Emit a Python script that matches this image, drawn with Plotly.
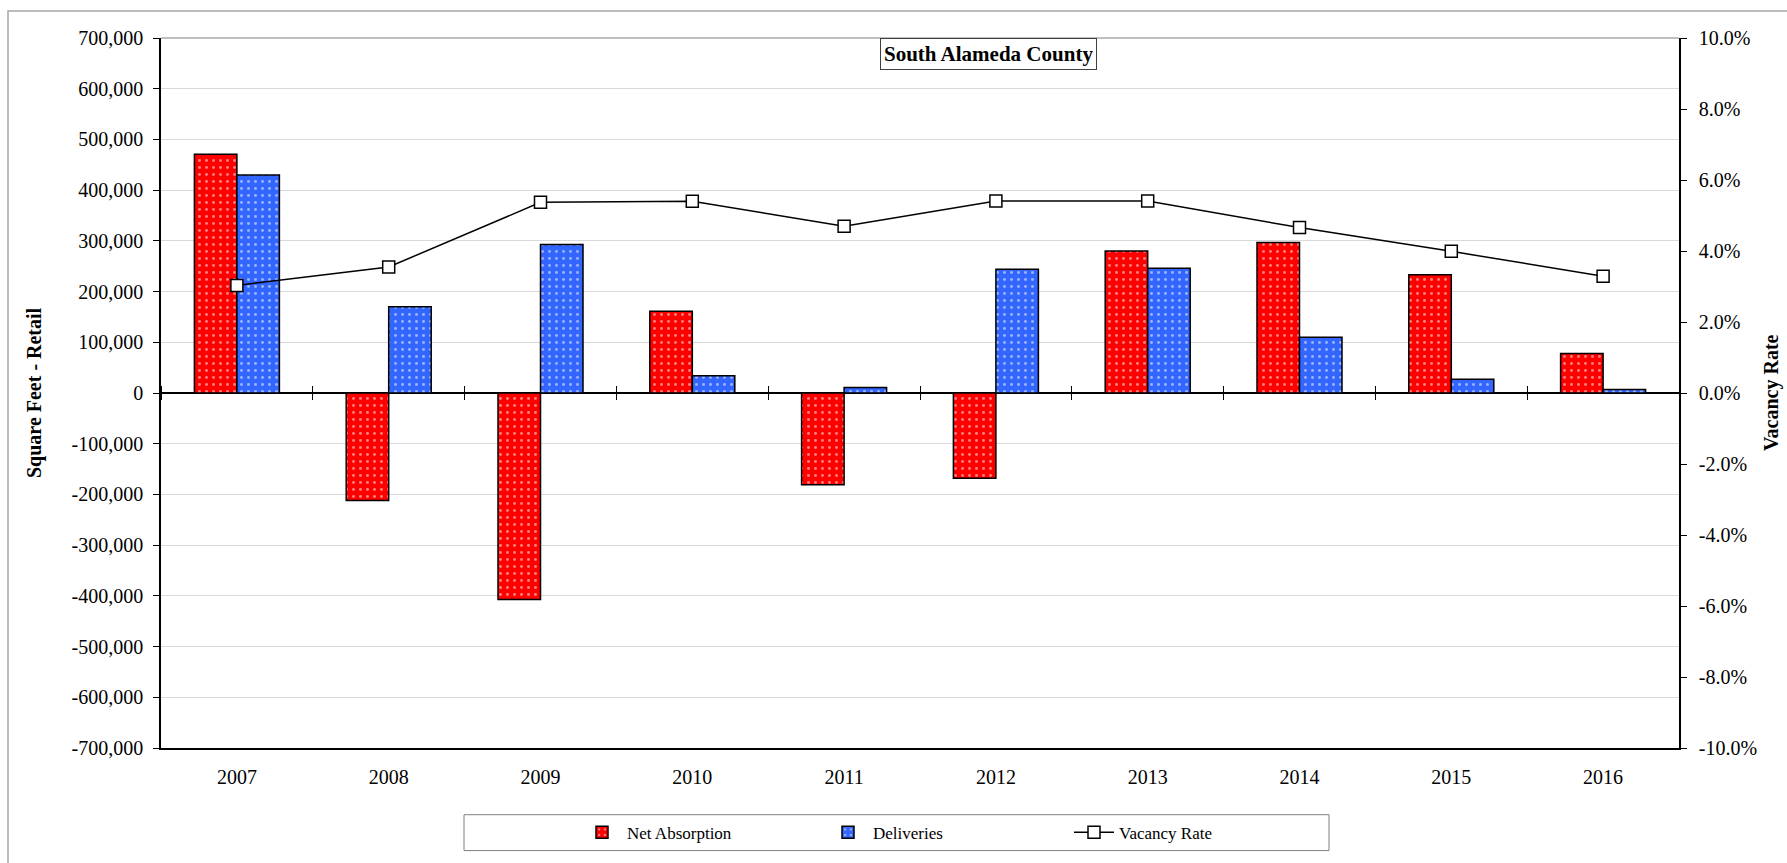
import plotly.graph_objects as go

years = ["2007", "2008", "2009", "2010", "2011", "2012", "2013", "2014", "2015", "2016"]
net_absorption = [471000, -212000, -407000, 161000, -181000, -168000, 280000, 297000, 233000, 78000]
deliveries = [430000, 170000, 293000, 34000, 11000, 244000, 246000, 110000, 27000, 7000]
vacancy_rate = [0.0303, 0.0355, 0.0537, 0.0540, 0.0470, 0.0541, 0.0541, 0.0466, 0.0399, 0.0329]

left_ticks = list(range(-700000, 700001, 100000))
left_ticktext = [("-" if v < 0 else "") + f"{abs(v):,}" for v in left_ticks]
right_ticks = [v / 100 for v in range(-10, 11, 2)]
right_ticktext = [("-" if v < 0 else "") + f"{abs(v) * 100:.1f}%" for v in right_ticks]

FONT = "Liberation Serif"
W, H = 1787, 863
L, R, T, B = 161, 108, 38, 112
pw, ph = W - L - R, H - T - B


def px(x):
    return (x - L) / pw


def py(y):
    return (H - B - y) / ph


yrange = [left_ticks[0], left_ticks[-1]]
zero_pos = (0 - yrange[0]) / (yrange[1] - yrange[0])
xrange = [-0.5, len(years) - 0.5]

fig = go.Figure()
fig.add_trace(go.Bar(
    x=years, y=net_absorption, name="Net Absorption",
    marker=dict(color="#FF0000", line=dict(color="#000000", width=1.5),
                pattern=dict(shape=".", fgcolor="#FFFFFF", bgcolor="#FF0000", size=7, solidity=0.14)),
))
fig.add_trace(go.Bar(
    x=years, y=deliveries, name="Deliveries",
    marker=dict(color="#3366FF", line=dict(color="#000000", width=1.5),
                pattern=dict(shape=".", fgcolor="#FFFFFF", bgcolor="#3366FF", size=7, solidity=0.14)),
))
fig.add_trace(go.Scatter(
    x=years, y=vacancy_rate, name="Vacancy Rate", yaxis="y2", mode="lines+markers",
    line=dict(color="#000000", width=1.5),
    marker=dict(symbol="square", size=12, color="#FFFFFF", line=dict(color="#000000", width=1.5)),
))
# invisible helpers so the zero-line category tick axes render
for ax in ["x2", "x3"]:
    fig.add_trace(go.Scatter(x=years, y=[0] * len(years), xaxis=ax, mode="lines",
                             line=dict(width=0), opacity=0, showlegend=False, hoverinfo="skip"))

fig.update_layout(
    width=W, height=H,
    margin=dict(l=L, r=R, t=T, b=B),
    paper_bgcolor="#FFFFFF", plot_bgcolor="#FFFFFF",
    font=dict(family=FONT, size=20, color="#000000"),
    barmode="group", bargap=0.44, bargroupgap=0,
    showlegend=True,
    legend=dict(orientation="h", x=px(946), y=py(836), xanchor="center", yanchor="middle",
                font=dict(family=FONT, size=17), bgcolor="rgba(0,0,0,0)", borderwidth=0,
                entrywidth=191, entrywidthmode="pixels", traceorder="normal", itemwidth=40),
    xaxis=dict(type="category", categoryorder="array", categoryarray=years, range=xrange,
               showline=True, linecolor="#000000", linewidth=1.5, ticks="",
               showgrid=False, ticklabelstandoff=10, tickfont=dict(size=20)),
    xaxis2=dict(type="category", categoryorder="array", categoryarray=years, range=xrange,
                overlaying="x", anchor="free", position=zero_pos, side="bottom",
                showticklabels=False, ticks="outside", tickson="boundaries", ticklen=6,
                tickcolor="#000000", tickwidth=1, showline=False, showgrid=False),
    xaxis3=dict(type="category", categoryorder="array", categoryarray=years, range=xrange,
                overlaying="x", anchor="free", position=zero_pos, side="top",
                showticklabels=False, ticks="outside", tickson="boundaries", ticklen=7,
                tickcolor="#000000", tickwidth=1, showline=False, showgrid=False),
    yaxis=dict(range=yrange, tickvals=left_ticks, ticktext=left_ticktext,
               showline=True, linecolor="#000000", linewidth=1.5,
               ticks="outside", ticklen=6, tickcolor="#000000",
               showgrid=True, gridcolor="#D9D9D9", gridwidth=1,
               zeroline=True, zerolinecolor="#000000", zerolinewidth=1.5,
               ticklabelstandoff=6, tickfont=dict(size=20)),
    yaxis2=dict(range=[right_ticks[0], right_ticks[-1]], tickvals=right_ticks, ticktext=right_ticktext,
                overlaying="y", side="right", showline=True, linecolor="#000000", linewidth=1.5,
                ticks="outside", ticklen=6, tickcolor="#000000", showgrid=False, zeroline=False,
                ticklabelstandoff=8, tickfont=dict(size=20)),
)

shapes = [
    # outer chart frame
    dict(type="rect", xref="paper", yref="paper", x0=px(8), y0=py(H + 40), x1=px(W + 40), y1=py(11),
         line=dict(color="#A6A6A6", width=1.5), fillcolor="rgba(0,0,0,0)", layer="below"),
    # plot area top border
    dict(type="line", xref="paper", yref="paper", x0=0, x1=1, y0=1, y1=1,
         line=dict(color="#808080", width=1)),
    # legend frame
    dict(type="rect", xref="paper", yref="paper", x0=px(464), x1=px(1329), y0=py(854), y1=py(818),
         line=dict(color="#808080", width=1), fillcolor="rgba(0,0,0,0)"),
]
fig.update_layout(shapes=shapes)

fig.add_annotation(text="<b>South Alameda County</b>", xref="paper", yref="paper",
                   x=px(989), y=1, xanchor="center", yanchor="top", showarrow=False,
                   font=dict(family=FONT, size=21, color="#000000"),
                   bordercolor="#404040", borderwidth=1, borderpad=3, bgcolor="#FFFFFF")
fig.add_annotation(text="<b>Square Feet - Retail</b>", xref="paper", yref="paper",
                   x=px(34), y=0.5, xanchor="center", yanchor="middle", textangle=-90, showarrow=False,
                   font=dict(family=FONT, size=20, color="#000000"))
fig.add_annotation(text="<b>Vacancy Rate</b>", xref="paper", yref="paper",
                   x=px(1771), y=0.5, xanchor="center", yanchor="middle", textangle=-90, showarrow=False,
                   font=dict(family=FONT, size=20, color="#000000"))

fig.write_html("out.html", config={"displayModeBar": False},
               post_script="document.body.style.margin='0';")
